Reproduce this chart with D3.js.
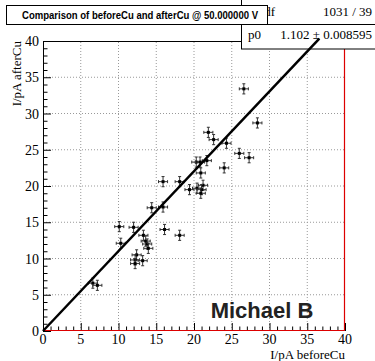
<!DOCTYPE html>
<html>
<head>
<meta charset="utf-8">
<script src="https://cdn.jsdelivr.net/npm/d3@7"></script>
<style>
  html, body { margin: 0; padding: 0; background: #fff; }
  svg { display: block; }
</style>
</head>
<body>
<div id="chart"></div>
<script>
// values
const beforeCu = [26.6, 28.4, 21.9, 22.6, 24.3, 26.0, 27.3, 24.0, 20.3, 20.8, 21.7, 20.9,
  15.9, 18.1, 19.4, 20.4, 21.2, 21.0, 20.9, 14.4, 15.9, 16.1, 10.1, 12.0, 18.1, 13.3,
  13.6, 13.8, 13.95, 10.3, 12.4, 12.2, 12.2, 13.2, 6.6, 7.2];
const afterCu = [33.4, 28.7, 27.4, 26.4, 25.9, 24.5, 23.9, 22.5, 23.3, 23.3, 23.5, 21.8,
  20.6, 20.6, 19.5, 19.7, 20.1, 19.5, 19.0, 17.0, 17.1, 14.0, 14.4, 14.3, 13.2, 13.2,
  12.4, 12.0, 11.4, 12.1, 10.5, 9.8, 9.3, 9.7, 6.6, 6.3];
const errBefore = 0.6;
const errAfter = 0.7;

const xTicks = [0, 5, 10, 15, 20, 25, 30, 35, 40];
const yTicks = [0, 5, 10, 15, 20, 25, 30, 35, 40];
const minorTicks = d3.range(0, 41, 1);

const fitP0 = 1.102;
const fitRange = [0, 36.6];
const titleText = 'Comparison of beforeCu and afterCu @ 50.000000 V';
const statRows = [
  { name: 'χ² / ndf', value: '1031 / 39' },
  { name: 'p0', value: '1.102 ± 0.008595' },
];

const width = 375;
const height = 361;
const margin = { left: 43, right: 30, top: 41, bottom: 30 };

const svg = d3.select('#chart')
  .append('svg')
  .attr('width', width)
  .attr('height', height);

const x = d3.scaleLinear()
  .domain([0, 40])
  .range([margin.left, width - margin.right]);
const y = d3.scaleLinear()
  .domain([0, 40])
  .range([height - margin.bottom, margin.top]);

const serif = '"Liberation Serif", "DejaVu Serif", serif';
const sans = '"Liberation Sans", Arial, sans-serif';

// grid
const grid = svg.append('g').attr('class', 'grid');
grid.selectAll('.gx')
  .data(xTicks.slice(1, -1))
  .enter()
  .append('line')
  .attr('x1', (d) => x(d)).attr('x2', (d) => x(d))
  .attr('y1', y(0)).attr('y2', y(40))
  .attr('stroke', '#999')
  .attr('stroke-width', 1)
  .attr('stroke-dasharray', '1,2');
grid.selectAll('.gy')
  .data(yTicks.slice(1, -1))
  .enter()
  .append('line')
  .attr('x1', x(0)).attr('x2', x(40))
  .attr('y1', (d) => y(d)).attr('y2', (d) => y(d))
  .attr('stroke', '#999')
  .attr('stroke-width', 1)
  .attr('stroke-dasharray', '1,2');

// frame
svg.append('line')
  .attr('x1', x(0)).attr('x2', x(40))
  .attr('y1', y(40) + 0.5).attr('y2', y(40) + 0.5)
  .attr('stroke', '#000');
svg.append('line')
  .attr('x1', x(40) - 0.5).attr('x2', x(40) - 0.5)
  .attr('y1', y(40)).attr('y2', y(0))
  .attr('stroke', '#d00')
  .attr('stroke-width', 1.2);

// axes, ROOT style with inward ticks
const bottomAxis = svg.append('g').attr('class', 'x-axis');
bottomAxis.selectAll('.minor')
  .data(minorTicks)
  .enter()
  .append('line')
  .attr('x1', (d) => x(d) + 0.5).attr('x2', (d) => x(d) + 0.5)
  .attr('y1', y(0))
  .attr('y2', (d) => y(0) - (d % 5 === 0 ? 8 : 4.5))
  .attr('stroke', '#000');
bottomAxis.append('line')
  .attr('x1', x(0)).attr('x2', x(40))
  .attr('y1', y(0) - 0.5).attr('y2', y(0) - 0.5)
  .attr('stroke', '#d00')
  .attr('stroke-width', 1.2);
bottomAxis.selectAll('text')
  .data(xTicks)
  .enter()
  .append('text')
  .attr('x', (d) => x(d))
  .attr('y', y(0) + 13)
  .attr('text-anchor', 'middle')
  .style('font-family', serif)
  .style('font-size', '14px')
  .text((d) => d);

const leftAxis = svg.append('g').attr('class', 'y-axis');
leftAxis.append('line')
  .attr('x1', x(0) + 0.5).attr('x2', x(0) + 0.5)
  .attr('y1', y(40)).attr('y2', y(0))
  .attr('stroke', '#000');
leftAxis.selectAll('.minor')
  .data(minorTicks)
  .enter()
  .append('line')
  .attr('x1', x(0))
  .attr('x2', (d) => x(0) + (d % 5 === 0 ? 8 : 4.5))
  .attr('y1', (d) => y(d) + 0.5).attr('y2', (d) => y(d) + 0.5)
  .attr('stroke', '#000');
leftAxis.selectAll('text')
  .data(yTicks)
  .enter()
  .append('text')
  .attr('x', x(0) - 4)
  .attr('y', (d) => y(d) + 5)
  .attr('text-anchor', 'end')
  .style('font-family', serif)
  .style('font-size', '14px')
  .text((d) => d);

// axis titles
svg.append('text')
  .attr('x', x(40))
  .attr('y', height - 2)
  .attr('text-anchor', 'end')
  .style('font-family', serif)
  .style('font-size', '13px')
  .text('I/pA beforeCu');
svg.append('text')
  .attr('transform', `translate(21,${y(40)}) rotate(-90)`)
  .attr('text-anchor', 'end')
  .style('font-family', serif)
  .style('font-size', '13px')
  .text('I/pA afterCu');

// points with error bars
const points = beforeCu.map((v, i) => ({ bx: v, ay: afterCu[i] }));
const cap = 1.5;
const pts = svg.append('g').attr('class', 'points')
  .selectAll('g')
  .data(points)
  .enter()
  .append('g')
  .attr('stroke', '#333')
  .attr('stroke-width', 1);
pts.append('line')
  .attr('x1', (d) => x(d.bx - errBefore)).attr('x2', (d) => x(d.bx + errBefore))
  .attr('y1', (d) => y(d.ay)).attr('y2', (d) => y(d.ay));
pts.append('line')
  .attr('x1', (d) => x(d.bx)).attr('x2', (d) => x(d.bx))
  .attr('y1', (d) => y(d.ay - errAfter)).attr('y2', (d) => y(d.ay + errAfter));
pts.append('line')
  .attr('x1', (d) => x(d.bx - errBefore)).attr('x2', (d) => x(d.bx - errBefore))
  .attr('y1', (d) => y(d.ay) - cap).attr('y2', (d) => y(d.ay) + cap);
pts.append('line')
  .attr('x1', (d) => x(d.bx + errBefore)).attr('x2', (d) => x(d.bx + errBefore))
  .attr('y1', (d) => y(d.ay) - cap).attr('y2', (d) => y(d.ay) + cap);
pts.append('line')
  .attr('x1', (d) => x(d.bx) - cap).attr('x2', (d) => x(d.bx) + cap)
  .attr('y1', (d) => y(d.ay - errAfter)).attr('y2', (d) => y(d.ay - errAfter));
pts.append('line')
  .attr('x1', (d) => x(d.bx) - cap).attr('x2', (d) => x(d.bx) + cap)
  .attr('y1', (d) => y(d.ay + errAfter)).attr('y2', (d) => y(d.ay + errAfter));
pts.append('rect')
  .attr('x', (d) => x(d.bx) - 1.5)
  .attr('y', (d) => y(d.ay) - 1.5)
  .attr('width', 3)
  .attr('height', 3)
  .attr('fill', '#000')
  .attr('stroke', 'none');

// watermark
svg.append('text')
  .attr('x', 262)
  .attr('y', 318)
  .attr('text-anchor', 'middle')
  .style('font-family', sans)
  .style('font-weight', 'bold')
  .style('font-size', '22px')
  .attr('fill', '#222')
  .text('Michael B');

// stats box
const stats = svg.append('g').attr('class', 'stats');
stats.append('rect')
  .attr('x', 241.5).attr('y', -2)
  .attr('width', 140).attr('height', 51)
  .attr('fill', '#fff')
  .attr('stroke', '#000');
stats.append('line')
  .attr('x1', 241).attr('x2', 375)
  .attr('y1', 24.5).attr('y2', 24.5)
  .attr('stroke', '#000');
stats.selectAll('.name')
  .data(statRows)
  .enter()
  .append('text')
  .attr('x', 238)
  .attr('y', (d, i) => 16 + i * 23)
  .attr('dx', (d, i) => (i === 0 ? 0 : 10))
  .style('font-family', serif)
  .style('font-size', '13px')
  .text((d) => d.name);
stats.selectAll('.value')
  .data(statRows)
  .enter()
  .append('text')
  .attr('x', 372)
  .attr('y', (d, i) => 16 + i * 23)
  .attr('text-anchor', 'end')
  .style('font-family', serif)
  .style('font-size', '13px')
  .text((d) => d.value);

// fit function, drawn on top
svg.append('line')
  .attr('x1', x(fitRange[0])).attr('y1', y(fitP0 * fitRange[0]))
  .attr('x2', x(fitRange[1])).attr('y2', y(fitP0 * fitRange[1]))
  .attr('stroke', '#000')
  .attr('stroke-width', 2.5);

// title box, it hides the start of the first stats row
const title = svg.append('g').attr('class', 'title');
title.append('rect')
  .attr('x', 6.5).attr('y', 5.5)
  .attr('width', 261).attr('height', 19)
  .attr('fill', '#fff')
  .attr('stroke', '#000');
title.append('text')
  .attr('x', 22)
  .attr('y', 19)
  .attr('textLength', 236)
  .attr('lengthAdjust', 'spacingAndGlyphs')
  .style('font-family', sans)
  .style('font-weight', 'bold')
  .style('font-size', '10.5px')
  .text(titleText);
</script>
</body>
</html>
